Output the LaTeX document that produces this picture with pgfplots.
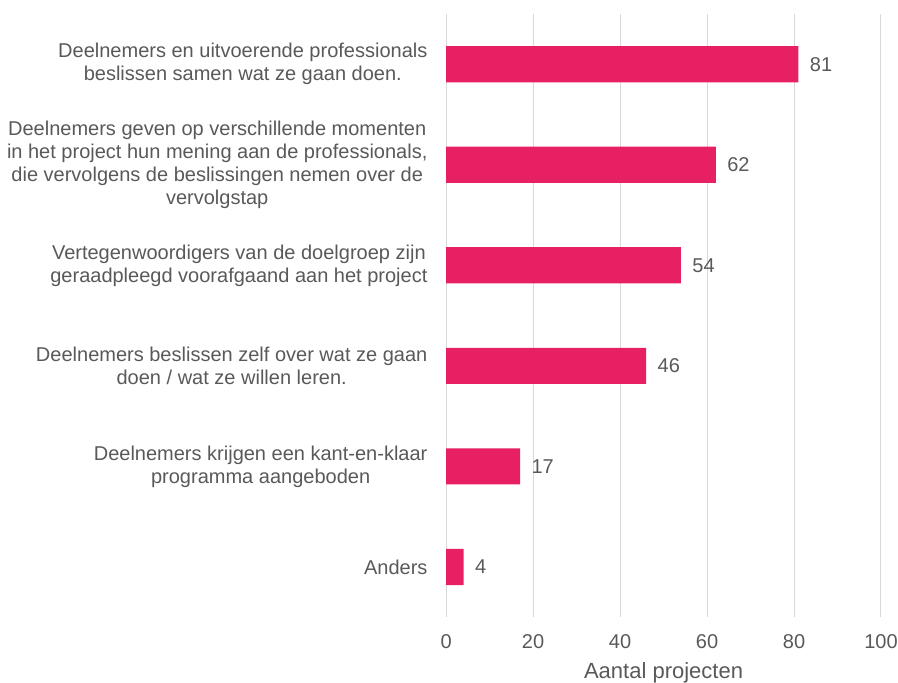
\documentclass[border=0pt]{standalone}
\usepackage{pgfplots}
\pgfplotsset{compat=1.18}
\usepackage{fontspec}
\setmainfont{Liberation Sans}
\definecolor{barpink}{HTML}{E71F63}
\definecolor{txt}{HTML}{595959}
\definecolor{gridc}{HTML}{D9D9D9}
\begin{document}
\begin{tikzpicture}
\begin{axis}[
  at={(0,0)}, anchor=origin,
  scale only axis,
  width=434.7bp, height=603bp,
  xbar, bar width=0.36,
  xmin=0, xmax=100,
  ymin=-0.5, ymax=5.5,
  xtick={0,20,40,60,80,100},
  ytick={0,1,2,3,4,5},
  yticklabels={
    {Anders},
    {Deelnemers krijgen een kant-en-klaar\\programma aangeboden},
    {Deelnemers beslissen zelf over wat ze gaan\\doen / wat ze willen leren.},
    {Vertegenwoordigers van de doelgroep zijn\\geraadpleegd voorafgaand aan het project},
    {Deelnemers geven op verschillende momenten\\in het project hun mening aan de professionals,\\die vervolgens de beslissingen nemen over de\\vervolgstap},
    {Deelnemers en uitvoerende professionals\\beslissen samen wat ze gaan doen.}
  },
  axis line style={draw=none},
  major tick length=0,
  xmajorgrids=true, ymajorgrids=false,
  major grid style={draw=gridc, line width=1bp},
  /pgf/number format/assume math mode=true,
  tick label style={font=\fontsize{20bp}{23bp}\selectfont, text=txt, inner sep=0pt},
  yticklabel style={align=center, xshift=-18.5bp},
  xticklabel style={yshift=-17.5bp},
  xlabel={Aantal projecten},
  xlabel style={at={(axis description cs:0.5,0)}, anchor=north, inner sep=0pt, yshift=-45bp,
    font=\fontsize{22bp}{24bp}\selectfont, text=txt},
  nodes near coords,
  every node near coord/.append style={font=\fontsize{20bp}{23bp}\selectfont, text=txt, xshift=8bp},
  clip=false,
]
\addplot[fill=barpink, draw=none] coordinates {(4,0) (17,1) (46,2) (54,3) (62,4) (81,5)};
\path (rel axis cs:0,0) ++(-446bp,-64bp) (rel axis cs:1,1) ++(17bp,14bp);
\end{axis}
\end{tikzpicture}
\end{document}
